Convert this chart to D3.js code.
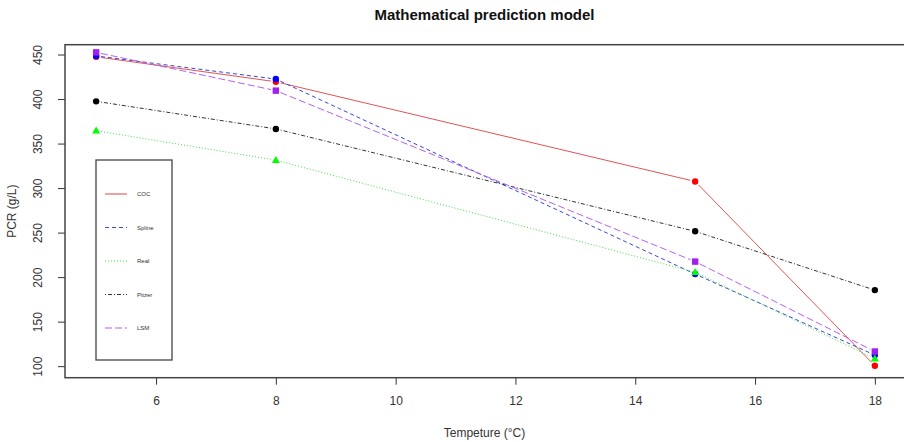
<!DOCTYPE html>
<html><head><meta charset="utf-8">
<script src="https://cdn.jsdelivr.net/npm/d3@7"></script>
<style>body{margin:0;background:#fff}svg{display:block}text{font-family:"Liberation Sans",Arial,sans-serif}</style>
</head><body><svg id="c" width="904" height="442"></svg>
<script>
const temps = [5, 8, 15, 18];
const coc    = [448, 420, 308, 101];
const spline = [449, 423, 204, 113];
const real   = [365, 332, 206, 109];
const pitzer = [398, 367, 252, 186];
const lsm    = [453, 410, 218, 117];
const xTicks = [6, 8, 10, 12, 14, 16, 18];
const yTicks = [100, 150, 200, 250, 300, 350, 400, 450];
const seriesNames = ["COC", "Spline", "Real", "Pitzer", "LSM"];

const series = [
  {name: seriesNames[0], values: coc,    color: "#e05555", pcolor: "#ff0000", dash: null,      shape: "circle"},
  {name: seriesNames[1], values: spline, color: "#3848d8", pcolor: "#0000ff", dash: "4,3",     shape: "circle"},
  {name: seriesNames[2], values: real,   color: "#40e040", pcolor: "#00ff00", dash: "1,2",     shape: "triangle"},
  {name: seriesNames[3], values: pitzer, color: "#333333", pcolor: "#000000", dash: "1,2,4,2", shape: "circle"},
  {name: seriesNames[4], values: lsm,    color: "#b462ea", pcolor: "#a020f0", dash: "7,3",     shape: "square"}
];

const svg = d3.select("#c");
const L = 65, T = 44.7, R = 906, B = 377.7;
const x = d3.scaleLinear().domain([4.48, 18.52]).range([L, R]);
const y = d3.scaleLinear().domain([87.6, 461.6]).range([B, T]);

// title
svg.append("text").attr("x", (L + 904) / 2).attr("y", 20).attr("text-anchor", "middle")
  .style("font-size", "15px").style("font-weight", "bold").attr("fill", "#111")
  .text("Mathematical prediction model");

// axes
const xAxis = svg.append("g").attr("transform", `translate(0,${B})`)
  .call(d3.axisBottom(x).tickValues(xTicks).tickSize(7).tickPadding(12).tickFormat(d3.format("d")));
xAxis.select(".domain").remove();
xAxis.selectAll("line").attr("stroke", "#333");
xAxis.selectAll("text").style("font-size", "12px").attr("fill", "#333");

const yAxis = svg.append("g").attr("transform", `translate(${L},0)`)
  .call(d3.axisLeft(y).tickValues(yTicks).tickSize(7).tickFormat(d3.format("d")));
yAxis.select(".domain").remove();
yAxis.selectAll(".tick").attr("transform", null);
yAxis.selectAll(".tick line").attr("stroke", "#333").each(function(d){ d3.select(this).attr("y1", y(d)).attr("y2", y(d)); });
yAxis.selectAll("text").style("font-size", "12px").attr("fill", "#333")
  .attr("text-anchor", "middle").attr("dy", null)
  .each(function(d){ d3.select(this).attr("transform", `translate(-27,${y(d)}) rotate(-90)`).attr("x",0).attr("y",4); });

// plot box
svg.append("rect").attr("x", L).attr("y", T).attr("width", R - L).attr("height", B - T)
  .attr("fill", "none").attr("stroke", "#444").attr("stroke-width", 1.5);

// axis titles
svg.append("text").attr("x", (L + 904) / 2).attr("y", 437).attr("text-anchor", "middle")
  .style("font-size", "12px").attr("fill", "#333").text("Tempeture (°C)");
svg.append("text").attr("transform", `translate(16,${(T + B) / 2}) rotate(-90)`).attr("text-anchor", "middle")
  .style("font-size", "12px").attr("fill", "#333").text("PCR (g/L)");

// lines with gaps (type = "b")
const gap = 5;
const g = svg.append("g");
series.forEach(s => {
  const pts = temps.map((t, i) => [x(t), y(s.values[i])]);
  for (let i = 0; i < pts.length - 1; i++) {
    const [x1, y1] = pts[i], [x2, y2] = pts[i + 1];
    const dx = x2 - x1, dy = y2 - y1, len = Math.hypot(dx, dy);
    const ux = dx / len, uy = dy / len;
    g.append("line")
      .attr("x1", x1 + ux * gap).attr("y1", y1 + uy * gap)
      .attr("x2", x2 - ux * gap).attr("y2", y2 - uy * gap)
      .attr("stroke", s.color).attr("stroke-width", 1)
      .attr("stroke-dasharray", s.dash);
  }
});
// points
series.forEach(s => {
  temps.forEach((t, i) => {
    const cx = x(t), cy = y(s.values[i]);
    if (s.shape === "circle") {
      g.append("circle").attr("cx", cx).attr("cy", cy).attr("r", 3.2).attr("fill", s.pcolor);
    } else if (s.shape === "square") {
      g.append("rect").attr("x", cx - 3.2).attr("y", cy - 3.2).attr("width", 6.4).attr("height", 6.4).attr("fill", s.pcolor);
    } else {
      g.append("path").attr("d", `M${cx},${cy - 4.2}L${cx + 4},${cy + 2.8}L${cx - 4},${cy + 2.8}Z`).attr("fill", s.pcolor);
    }
  });
});

// legend
const lg = svg.append("g");
lg.append("rect").attr("x", 96).attr("y", 160).attr("width", 76).attr("height", 200)
  .attr("fill", "#fff").attr("stroke", "#444").attr("stroke-width", 1.3);
const legY = d3.scalePoint().domain(seriesNames).range([194, 328]);
series.forEach(s => {
  const yy = legY(s.name);
  lg.append("line").attr("x1", 105).attr("x2", 127).attr("y1", yy).attr("y2", yy)
    .attr("stroke", s.color).attr("stroke-width", 1.1).attr("stroke-dasharray", s.dash);
  lg.append("text").attr("x", 137).attr("y", yy + 2).style("font-size", "6px").attr("fill", "#333").text(s.name);
});
</script></body></html>
